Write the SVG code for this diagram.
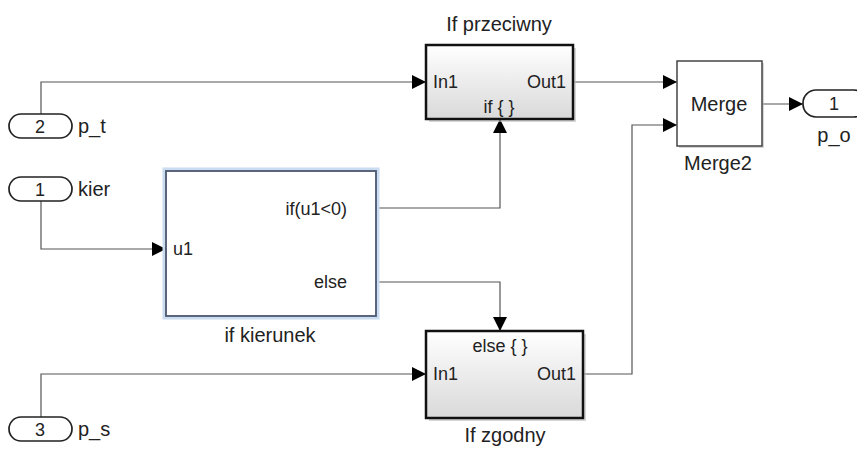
<svg xmlns="http://www.w3.org/2000/svg" width="857" height="449" viewBox="0 0 857 449">
<defs>
<linearGradient id="sub" x1="0" y1="0" x2="0" y2="1">
<stop offset="0" stop-color="#ffffff"/>
<stop offset="1" stop-color="#d9d9d9"/>
</linearGradient>
<marker id="arr" markerUnits="userSpaceOnUse" markerWidth="15" markerHeight="14" refX="14" refY="7" orient="auto">
<path d="M0,0 L14,7 L0,14 z" fill="#000"/>
</marker>
</defs>
<style>
text{font-family:"Liberation Sans",Arial,sans-serif;font-size:18px;fill:#222}
.lbl{font-size:20px}
.wire{fill:none;stroke:#555;stroke-width:1.2}
.pill{fill:#fff;stroke:#222;stroke-width:1.7}
.shadow{fill:#bbb;opacity:0.6}
.subsys{fill:url(#sub);stroke:#111;stroke-width:2.5}
</style>
<rect width="857" height="449" fill="#fff"/>

<g id="connectors">
<path class="wire" d="M41,114 V82 H426" marker-end="url(#arr)"/>
<path class="wire" d="M41,200 V249 H166" marker-end="url(#arr)"/>
<path class="wire" d="M41,417 V374 H426" marker-end="url(#arr)"/>
<path class="wire" d="M376,208 H500 V119" marker-end="url(#arr)"/>
<path class="wire" d="M376,282 H500 V331" marker-end="url(#arr)"/>
<path class="wire" d="M573,82 H677" marker-end="url(#arr)"/>
<path class="wire" d="M583,374 H632 V125 H677" marker-end="url(#arr)"/>
<path class="wire" d="M762,104 H803" marker-end="url(#arr)"/>
</g>

<g id="in_p_t">
<rect class="pill" x="9" y="114" width="63" height="24" rx="12" ry="12"/>
<text x="40" y="133" text-anchor="middle">2</text>
<text class="lbl" x="78" y="133">p_t</text>
</g>

<g id="in_kier">
<rect class="pill" x="9" y="177" width="63" height="24" rx="12" ry="12"/>
<text x="40" y="196" text-anchor="middle">1</text>
<text class="lbl" x="78" y="196">kier</text>
</g>

<g id="in_p_s">
<rect class="pill" x="9" y="417" width="63" height="24" rx="12" ry="12"/>
<text x="40" y="436" text-anchor="middle">3</text>
<text class="lbl" x="78" y="436">p_s</text>
</g>

<g id="if_kierunek">
<rect x="164" y="169" width="214" height="149" fill="none" stroke="#c9dcf0" stroke-width="3"/>
<rect x="166" y="171" width="210" height="145" fill="#fff" stroke="#4a5570" stroke-width="1.8"/>
<text x="173" y="255">u1</text>
<text x="347" y="215" text-anchor="end">if(u1&lt;0)</text>
<text x="347" y="288" text-anchor="end">else</text>
<text class="lbl" x="270" y="342" text-anchor="middle">if kierunek</text>
</g>

<g id="if_przeciwny">
<rect class="shadow" x="429" y="48" width="147" height="74"/>
<rect class="subsys" x="426" y="45" width="147" height="74"/>
<text class="lbl" x="499" y="31" text-anchor="middle">If przeciwny</text>
<text x="433" y="88">In1</text>
<text x="566" y="88" text-anchor="end">Out1</text>
<text x="499" y="113" text-anchor="middle">if { }</text>
</g>

<g id="if_zgodny">
<rect class="shadow" x="429" y="334" width="157" height="87"/>
<rect class="subsys" x="426" y="331" width="157" height="87"/>
<text x="500" y="352" text-anchor="middle">else { }</text>
<text x="433" y="380">In1</text>
<text x="576" y="380" text-anchor="end">Out1</text>
<text class="lbl" x="505" y="442" text-anchor="middle">If zgodny</text>
</g>

<g id="merge2">
<rect class="shadow" x="679" y="63" width="85" height="85"/>
<rect x="677" y="61" width="85" height="85" fill="#fff" stroke="#444" stroke-width="1.5"/>
<text class="lbl" x="719" y="111" text-anchor="middle">Merge</text>
<text class="lbl" x="718" y="170" text-anchor="middle">Merge2</text>
</g>

<g id="out_p_o">
<rect class="pill" x="803" y="90" width="64" height="27" rx="13" ry="13"/>
<text x="834" y="110" text-anchor="middle">1</text>
<text class="lbl" x="834" y="142" text-anchor="middle">p_o</text>
</g>
</svg>
